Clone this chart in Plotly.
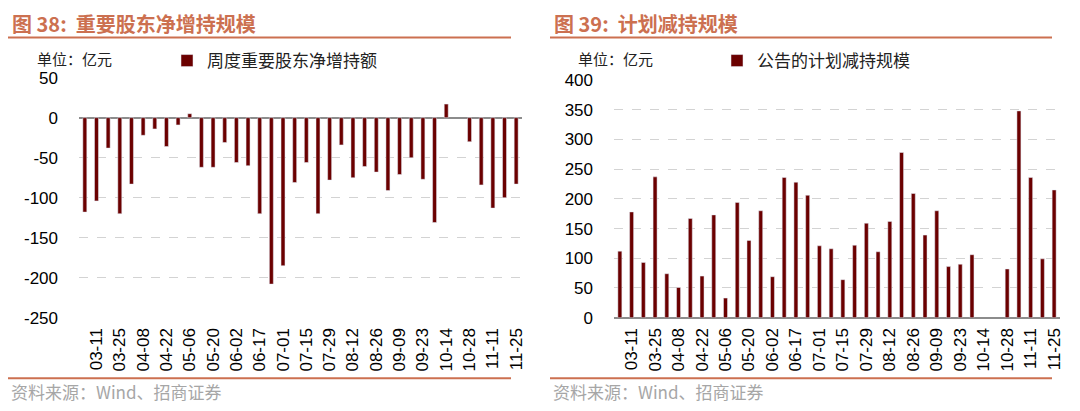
import plotly.graph_objects as go

categories = ["03-04", "03-11", "03-18", "03-25", "04-01", "04-08", "04-15", "04-22",
              "04-29", "05-06", "05-13", "05-20", "05-27", "06-02", "06-11", "06-17",
              "06-24", "07-01", "07-08", "07-15", "07-22", "07-29", "08-05", "08-12",
              "08-19", "08-26", "09-02", "09-09", "09-16", "09-23", "10-08", "10-14",
              "10-21", "10-28", "11-04", "11-11", "11-18", "11-25"]
tick_labels = categories[1::2]

net_increase = [-118, -104, -38, -120, -83, -22, -14, -36, -9, 5, -62, -62, -31, -56,
                -60, -120, -208, -185, -81, -56, -120, -78, -34, -75, -61, -68, -91,
                -71, -50, -77, -131, 17, None, -30, -84, -113, -100, -83]
planned_reduction = [112, 178, 93, 237, 74, 51, 167, 70, 173, 33, 194, 130, 180, 69,
                     236, 228, 206, 121, 116, 64, 122, 159, 111, 162, 278, 209, 139,
                     180, 86, 90, 106, None, None, 82, 348, 236, 99, 215]

left_ticks = [50, 0, -50, -100, -150, -200, -250]
right_ticks = [0, 50, 100, 150, 200, 250, 300, 350, 400]

name_left = "周度重要股东净增持额"
name_right = "公告的计划减持规模"
title_left = "图 38:  重要股东净增持规模"
title_right = "图 39:  计划减持规模"
unit_text = "单位：亿元"
source_text = "资料来源：Wind、招商证券"

W, H = 1080, 411
BAR = "#6B0000"
TITLE_C = "#CC7050"
CJK = "Noto Sans CJK SC"
NUM = "Liberation Sans"

def px(x):
    return x / W

def py(y):
    return 1 - y / H

fig = go.Figure()
fig.add_trace(go.Bar(x=categories, y=net_increase, name=name_left, marker_color=BAR,
                     xaxis="x", yaxis="y", legend="legend"))
fig.add_trace(go.Bar(x=categories, y=planned_reduction, name=name_right, marker_color=BAR,
                     xaxis="x2", yaxis="y2", legend="legend2"))

xcommon = dict(type="category", categoryorder="array", categoryarray=categories,
               tickmode="array", tickvals=tick_labels, ticktext=tick_labels,
               tickangle=-90, tickfont=dict(family=NUM, size=17, color="black"),
               showgrid=False, showline=False, ticks="", ticklabelstandoff=6,
               fixedrange=True, automargin=False)
ycommon = dict(showgrid=True, gridcolor="#D3D3D3", griddash="dash", gridwidth=1,
               zeroline=True, zerolinecolor="#8C8C8C", zerolinewidth=1.5,
               showline=False, ticks="", ticklabelstandoff=20, automargin=False,
               fixedrange=True, tickfont=dict(family=NUM, size=17, color="black"))

fig.update_layout(
    width=W, height=H, margin=dict(l=0, r=0, t=0, b=0, autoexpand=False),
    paper_bgcolor="white", plot_bgcolor="white", bargap=0.66,
    xaxis=dict(domain=[px(79), px(522)], anchor="y", **xcommon),
    yaxis=dict(domain=[py(317.7), py(77.7)], anchor="x", range=[-250, 50],
               tickvals=left_ticks, ticktext=[str(v) for v in left_ticks], **ycommon),
    xaxis2=dict(domain=[px(614), px(1060)], anchor="y2", **xcommon),
    yaxis2=dict(domain=[py(317.7), py(80)], anchor="x2", range=[0, 400],
                tickvals=right_ticks, ticktext=[str(v) for v in right_ticks], **ycommon),
    legend=dict(x=px(167), y=py(61), xanchor="left", yanchor="middle",
                bgcolor="rgba(0,0,0,0)", font=dict(family=CJK, size=17, color="#222"),
                itemwidth=30, tracegroupgap=0),
    legend2=dict(x=px(717), y=py(61), xanchor="left", yanchor="middle",
                 bgcolor="rgba(0,0,0,0)", font=dict(family=CJK, size=17, color="#222"),
                 itemwidth=30, tracegroupgap=0),
    showlegend=True,
)

# titles, rules, texts
for x0, x1, title in [(8, 511, title_left), (550, 1052, title_right)]:
    fig.add_shape(type="line", xref="paper", yref="paper", x0=px(x0), x1=px(x1),
                  y0=py(37.5), y1=py(37.5), line=dict(color=TITLE_C, width=2))
    fig.add_shape(type="line", xref="paper", yref="paper", x0=px(x0), x1=px(x1),
                  y0=py(378.3), y1=py(378.3), line=dict(color=TITLE_C, width=2))
    fig.add_annotation(text="<b>" + title + "</b>", xref="paper", yref="paper",
                       x=px(x0 + 2), y=py(23), xanchor="left", yanchor="middle",
                       showarrow=False, font=dict(family=CJK, size=20, color=TITLE_C))
    fig.add_annotation(text=source_text, xref="paper", yref="paper",
                       x=px(x0 + 1), y=py(391.5), xanchor="left", yanchor="middle",
                       showarrow=False, font=dict(family=CJK, size=17, color="#A6A6A6"))

for x0 in (35, 576):
    fig.add_annotation(text=unit_text, xref="paper", yref="paper",
                       x=px(x0), y=py(59), xanchor="left", yanchor="middle",
                       showarrow=False, font=dict(family=CJK, size=15, color="#222"))

fig.write_html("out.html", config={"displayModeBar": False},
               post_script="document.body.style.margin='0px';document.body.style.overflow='hidden';")
